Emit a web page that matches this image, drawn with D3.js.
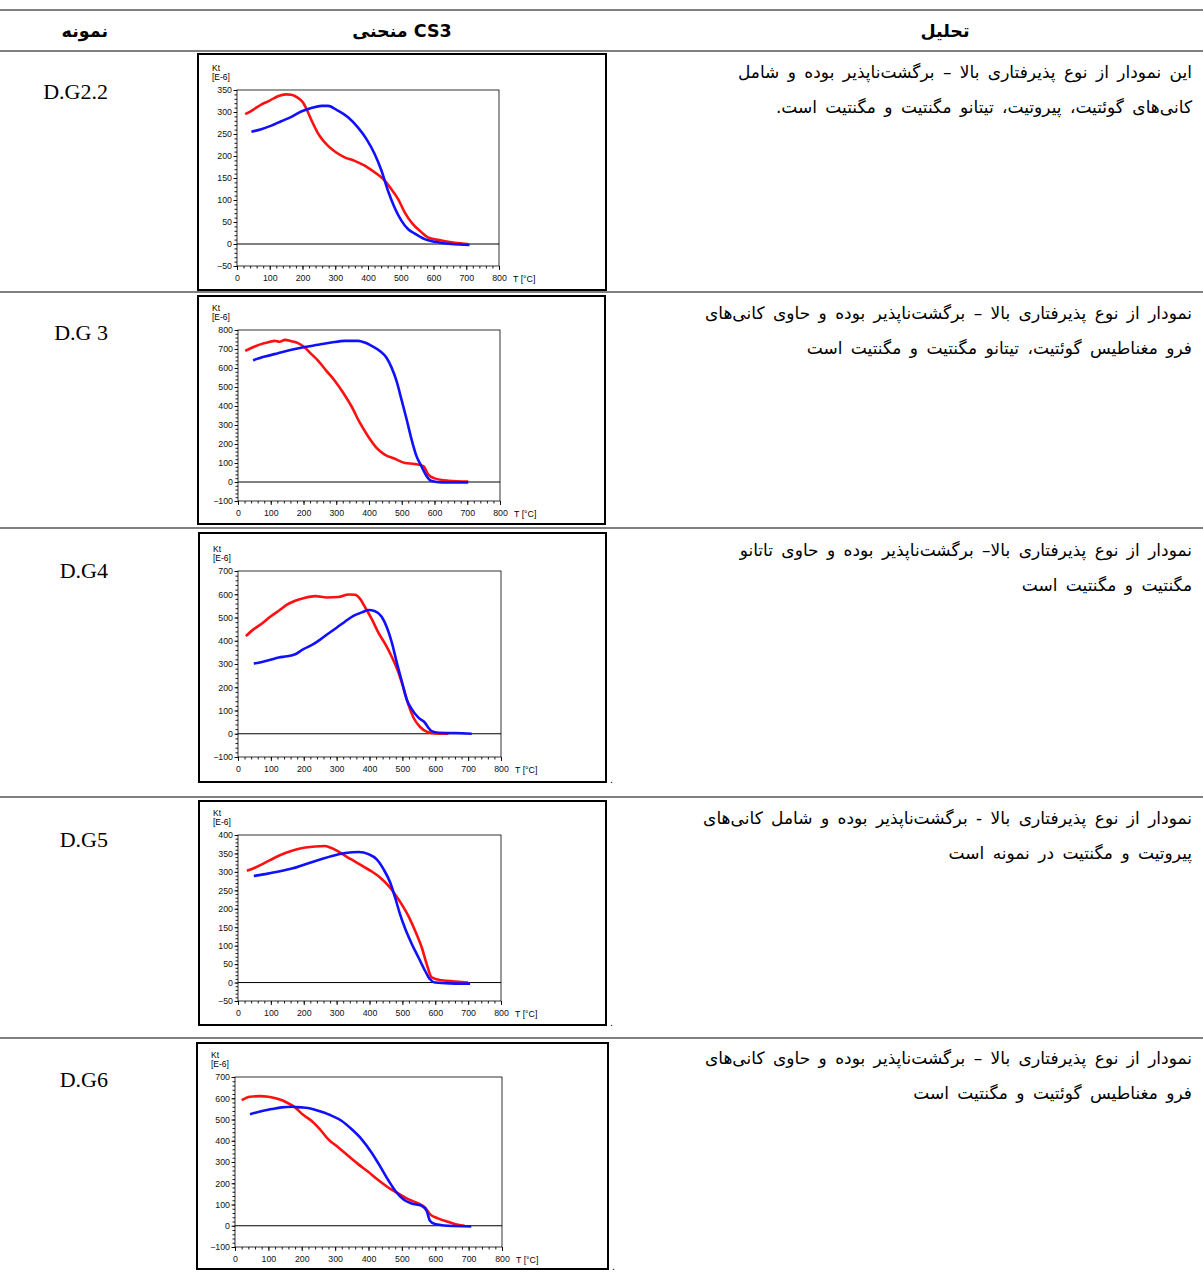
<!DOCTYPE html>
<html>
<head>
<meta charset="utf-8">
<script src="https://cdn.jsdelivr.net/npm/d3@7"></script>
<style>
  body { margin: 0; background: #fff; }
  svg { display: block; }
</style>
</head>
<body>
<script>
// ---- data ----
const headers = ["نمونه", "منحنی CS3", "تحلیل"];
const samples = ["D.G2.2", "D.G 3", "D.G4", "D.G5", "D.G6"];
const notes = [
  ["این نمودار از نوع پذیرفتاری بالا – برگشت‌ناپذیر بوده و شامل", "کانی‌های گوئتیت، پیروتیت، تیتانو مگنتیت و مگنتیت است."],
  ["نمودار از نوع پذیرفتاری بالا – برگشت‌ناپذیر بوده و حاوی کانی‌های", "فرو مغناطیس گوئتیت، تیتانو مگنتیت و مگنتیت است"],
  ["نمودار از نوع پذیرفتاری بالا– برگشت‌ناپذیر بوده و حاوی تاتانو", "مگنتیت و مگنتیت است"],
  ["نمودار از نوع پذیرفتاری بالا - برگشت‌ناپذیر بوده و شامل کانی‌های", "پیروتیت و مگنتیت در نمونه است"],
  ["نمودار از نوع پذیرفتاری بالا – برگشت‌ناپذیر بوده و حاوی کانی‌های", "فرو مغناطیس گوئتیت و مگنتیت است"]
];
const xTicks = [0, 100, 200, 300, 400, 500, 600, 700, 800];
const yDomains = [[-50, 350], [-100, 800], [-100, 700], [-50, 400], [-100, 700]];
const ySteps = [50, 100, 100, 50, 100];

// [T °C, Kt E-6] — red = heating, blue = cooling
const heat1 = [[25,295],[49,305],[74,317],[100,326],[125,336],[150,340],[166,339],[186,332],[201,322],[217,299],[232,274],[252,246],[278,223],[303,208],[329,197],[359,189],[390,178],[420,163],[446,148],[471,125],[492,102],[512,72],[537,45],[563,27],[583,15],[624,8],[665,3],[705,0]];
const cool1 = [[44,255],[74,261],[105,269],[135,279],[166,289],[196,301],[227,309],[258,314],[278,314],[308,303],[339,288],[369,265],[395,239],[420,205],[441,167],[461,121],[481,83],[502,53],[522,34],[542,24],[573,11],[604,5],[654,0],[710,-2]];

const heat2 = [[22,690],[51,713],[82,731],[112,743],[127,738],[143,748],[163,741],[183,731],[204,708],[224,673],[245,638],[270,585],[296,532],[321,470],[346,400],[372,312],[397,241],[423,180],[448,144],[479,122],[510,100],[540,95],[566,83],[581,39],[601,19],[642,7],[703,2]];
const cool2 = [[46,641],[82,660],[122,678],[163,696],[204,711],[245,722],[285,734],[326,743],[367,743],[387,734],[408,717],[433,690],[453,655],[469,602],[484,532],[499,435],[515,329],[530,224],[545,136],[560,83],[576,30],[591,5],[622,-2],[703,-2]];

const heat3 = [[24,420],[48,450],[73,474],[98,503],[124,529],[149,555],[174,572],[199,583],[235,592],[270,586],[306,588],[336,599],[356,598],[372,579],[387,543],[407,493],[427,435],[448,385],[468,330],[488,263],[503,198],[518,126],[534,69],[554,29],[574,9],[600,1],[640,0]];
const cool3 = [[48,302],[73,309],[98,318],[124,328],[149,333],[174,342],[199,364],[225,382],[250,405],[275,431],[301,457],[326,483],[351,507],[377,522],[397,532],[417,527],[437,503],[453,457],[468,392],[483,306],[498,227],[513,148],[529,105],[549,69],[569,47],[579,26],[589,11],[610,4],[660,3],[711,0]];

const heat4 = [[27,303],[53,312],[83,325],[113,339],[144,351],[174,360],[205,366],[235,369],[265,370],[286,364],[306,355],[331,341],[356,328],[382,314],[407,301],[432,285],[458,262],[478,239],[498,212],[518,181],[539,140],[559,95],[574,50],[589,14],[620,6],[660,3],[700,0]];
const cool4 = [[48,289],[83,294],[124,301],[164,309],[205,321],[245,332],[286,343],[326,351],[367,354],[397,348],[422,334],[443,307],[463,271],[478,230],[493,185],[509,145],[529,104],[549,68],[569,32],[584,9],[600,0],[660,-3],[706,-3]];

const heat5 = [[20,591],[45,607],[75,610],[100,607],[130,596],[155,580],[180,557],[204,522],[229,494],[254,455],[279,408],[309,369],[339,329],[369,290],[399,254],[429,215],[459,180],[489,152],[519,125],[549,105],[569,86],[584,55],[608,35],[638,19],[668,5],[688,0]];
const cool5 = [[45,525],[75,538],[110,549],[140,557],[170,560],[199,557],[229,551],[259,536],[289,518],[319,494],[349,455],[379,408],[409,345],[434,282],[459,215],[484,157],[504,125],[529,105],[559,94],[574,71],[584,24],[599,8],[638,0],[708,-3]];

const heating = [heat1, heat2, heat3, heat4, heat5];
const cooling = [cool1, cool2, cool3, cool4, cool5];

// ---- layout ----
const W = 1203, H = 1278;
const ruleYs = [10, 51, 292, 528, 797, 1038];
const boxes = [
  { x: 198, y: 54,   w: 408, h: 236 },
  { x: 198, y: 296,  w: 407, h: 228 },
  { x: 199, y: 533,  w: 407, h: 249 },
  { x: 199, y: 801,  w: 407, h: 224 },
  { x: 197, y: 1043, w: 411, h: 226 }
];
const plots = [
  { x: 237, y: 90,   w: 262, h: 176 },
  { x: 238, y: 330,  w: 262, h: 171 },
  { x: 238, y: 571,  w: 263, h: 186 },
  { x: 238, y: 835,  w: 263, h: 166 },
  { x: 235, y: 1077, w: 267, h: 170 }
];
const sampleYs = [99, 340, 578, 847, 1087];
const noteYs = [78, 319, 556, 824, 1064];
const dotted = [false, false, true, true, true];

const persian = "'DejaVu Sans', sans-serif";
const latin = "'Liberation Sans', Arial, sans-serif";

const svg = d3.select("body").append("svg")
  .attr("width", W)
  .attr("height", H);

// table rules
svg.append("g")
  .selectAll("line")
  .data(ruleYs)
  .join("line")
  .attr("x1", 0).attr("x2", W)
  .attr("y1", d => d).attr("y2", d => d)
  .attr("stroke", "#808080")
  .attr("stroke-width", 2);

// header
const headerX = [108, 402, 945];
svg.append("g")
  .selectAll("text")
  .data(headers)
  .join("text")
  .attr("x", (d, i) => headerX[i])
  .attr("y", 37)
  .attr("text-anchor", (d, i) => i === 0 ? "end" : "middle")
  .attr("font-family", persian)
  .attr("font-weight", "bold")
  .attr("font-size", 17.5)
  .text(d => d);

// sample names
svg.append("g")
  .selectAll("text")
  .data(samples)
  .join("text")
  .attr("x", 108)
  .attr("y", (d, i) => sampleYs[i])
  .attr("text-anchor", "end")
  .attr("font-family", "'Liberation Serif', 'Times New Roman', serif")
  .attr("font-size", 22)
  .text(d => d);

// analysis text, right aligned
const noteG = svg.append("g")
  .attr("font-family", persian)
  .attr("font-size", 17)
  .attr("word-spacing", 3);
notes.forEach((lines, i) => {
  lines.forEach((line, j) => {
    noteG.append("text")
      .attr("x", 1192)
      .attr("y", noteYs[i] + j * 35)
      .attr("direction", "rtl")
      .attr("text-anchor", "start")
      .text(line);
  });
});

// charts
boxes.forEach((box, i) => {
  const p = plots[i];
  const g = svg.append("g");

  g.append("rect")
    .attr("x", box.x).attr("y", box.y)
    .attr("width", box.w).attr("height", box.h)
    .attr("fill", "#fff")
    .attr("stroke", "#000")
    .attr("stroke-width", 2);

  if (dotted[i]) {
    g.append("text")
      .attr("x", box.x + box.w + 4)
      .attr("y", box.y + box.h + 1)
      .attr("font-size", 11)
      .attr("font-family", latin)
      .text(".");
  }

  const x = d3.scaleLinear().domain([0, 800]).range([p.x, p.x + p.w]);
  const y = d3.scaleLinear().domain(yDomains[i]).range([p.y + p.h, p.y]);
  const [y0, y1] = yDomains[i];
  const step = ySteps[i];

  // minor ticks
  g.append("g")
    .attr("transform", `translate(0,${p.y + p.h})`)
    .call(d3.axisBottom(x).tickValues(d3.range(0, 801, 20)).tickSize(2.5).tickFormat(""))
    .call(a => a.select(".domain").remove());
  g.append("g")
    .attr("transform", `translate(${p.x},0)`)
    .call(d3.axisLeft(y).tickValues(d3.range(y0, y1 + 0.1, step / 5)).tickSize(2.5).tickFormat(""))
    .call(a => a.select(".domain").remove());

  // major ticks and labels
  g.append("g")
    .attr("transform", `translate(0,${p.y + p.h})`)
    .call(d3.axisBottom(x).tickValues(xTicks).tickSize(4).tickPadding(5).tickFormat(d3.format("d")))
    .call(a => a.select(".domain").remove())
    .attr("font-size", 8.8)
    .attr("font-family", latin);
  g.append("g")
    .attr("transform", `translate(${p.x},0)`)
    .call(d3.axisLeft(y).tickValues(d3.range(y0, y1 + 0.1, step)).tickSize(3.5).tickPadding(1.5).tickFormat(d3.format("d")))
    .call(a => a.select(".domain").remove())
    .attr("font-size", 8.8)
    .attr("font-family", latin);

  g.selectAll(".tick line").attr("stroke", "#000").attr("stroke-width", 0.9);
  g.selectAll(".tick text").attr("fill", "#111");

  // frame and zero line
  g.append("rect")
    .attr("x", p.x).attr("y", p.y)
    .attr("width", p.w).attr("height", p.h)
    .attr("fill", "none")
    .attr("stroke", "#000")
    .attr("stroke-width", 0.8);
  g.append("line")
    .attr("x1", p.x).attr("x2", p.x + p.w)
    .attr("y1", y(0)).attr("y2", y(0))
    .attr("stroke", "#000")
    .attr("stroke-width", 1);

  // unit labels
  g.append("text")
    .attr("x", p.x + p.w + 14)
    .attr("y", p.y + p.h + 16)
    .attr("font-size", 8.8)
    .attr("font-family", latin)
    .text("T [°C]");
  g.append("text")
    .attr("x", box.x + 14).attr("y", p.y - 19)
    .attr("font-size", 8.5)
    .attr("font-family", latin)
    .text("Kt");
  g.append("text")
    .attr("x", box.x + 14).attr("y", p.y - 10)
    .attr("font-size", 8.5)
    .attr("font-family", latin)
    .text("[E-6]");

  const line = d3.line()
    .x(d => x(d[0]))
    .y(d => y(d[1]))
    .curve(d3.curveMonotoneX);

  g.append("path")
    .datum(heating[i])
    .attr("d", line)
    .attr("fill", "none")
    .attr("stroke", "#ff1010")
    .attr("stroke-width", 2.6);
  g.append("path")
    .datum(cooling[i])
    .attr("d", line)
    .attr("fill", "none")
    .attr("stroke", "#1010ff")
    .attr("stroke-width", 2.6);
});
</script>
</body>
</html>
